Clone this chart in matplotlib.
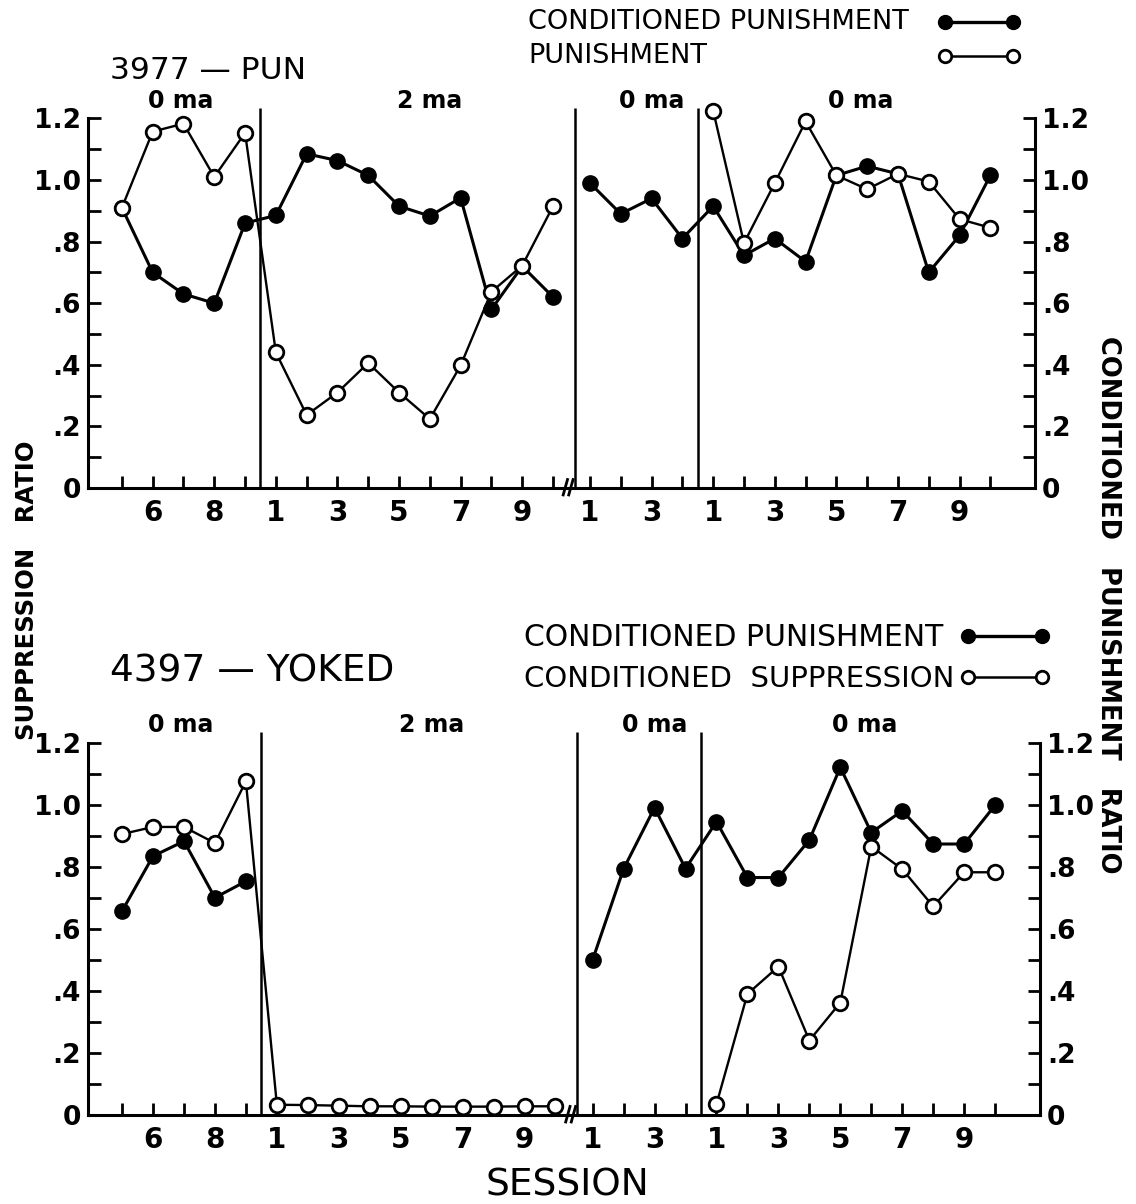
import numpy as np
import matplotlib
matplotlib.use("Agg")
import matplotlib.pyplot as plt
from matplotlib.ticker import MultipleLocator, FixedLocator

plt.rcParams['font.family'] = ['DejaVu Sans']

# Sessions in each phase
sessions_g1 = [5, 6, 7, 8, 9]
sessions_g2 = list(range(1, 11))
sessions_g3 = [1, 2, 3, 4]
sessions_g4 = list(range(1, 11))
phase_names = ["0 ma", "2 ma", "0 ma", "0 ma"]
tick_labels_g1 = ["", "6", "", "8", ""]
tick_labels_g2 = ["1", "", "3", "", "5", "", "7", "", "9", ""]
tick_labels_g3 = ["1", "", "3", ""]
tick_labels_g4 = ["1", "", "3", "", "5", "", "7", "", "9", ""]
ytick_vals = [0, 0.2, 0.4, 0.6, 0.8, 1.0, 1.2]
ytick_text = ["0", ".2", ".4", ".6", ".8", "1.0", "1.2"]

# 3977 - PUN
pun_cp_g1 = [0.91, 0.70, 0.63, 0.60, 0.86]
pun_cp_g2 = [0.885, 1.085, 1.063, 1.015, 0.915, 0.883, 0.942, 0.58, 0.72, 0.62]
pun_cp_g3 = [0.99, 0.89, 0.94, 0.81]
pun_cp_g4 = [0.915, 0.755, 0.81, 0.735, 1.015, 1.045, 1.02, 0.70, 0.82, 1.015]
pun_p_g1 = [0.91, 1.157, 1.183, 1.01, 1.153]
pun_p_g2 = [0.44, 0.237, 0.31, 0.406, 0.31, 0.224, 0.398, 0.637, 0.722, 0.915]
pun_p_g4 = [1.225, 0.795, 0.99, 1.19, 1.015, 0.97, 1.02, 0.995, 0.873, 0.845]

# 4397 - YOKED
yok_cp_g1 = [0.657, 0.834, 0.882, 0.70, 0.753]
yok_cp_g3 = [0.50, 0.793, 0.99, 0.794]
yok_cp_g4 = [0.945, 0.765, 0.765, 0.886, 1.12, 0.91, 0.98, 0.873, 0.873, 0.998]
yok_cs_g1 = [0.905, 0.928, 0.928, 0.876, 1.075]
yok_cs_g2 = [0.033, 0.032, 0.03, 0.028, 0.028, 0.027, 0.027, 0.027, 0.028, 0.028]
yok_cs_g4 = [0.035, 0.39, 0.478, 0.24, 0.362, 0.865, 0.792, 0.672, 0.782, 0.782]

# x positions: consecutive slots, small extra gap after the axis break
gap = 0.2
x_g1 = np.arange(len(sessions_g1), dtype=float)
x_g2 = x_g1[-1] + 1 + np.arange(len(sessions_g2))
x_g3 = x_g2[-1] + 1 + gap + np.arange(len(sessions_g3))
x_g4 = x_g3[-1] + 1 + np.arange(len(sessions_g4))
bounds = [(x_g1[-1] + x_g2[0]) / 2, (x_g2[-1] + x_g3[0]) / 2 + 0.1, (x_g3[-1] + x_g4[0]) / 2]
brk = x_g2[-1] + 0.45
centers = [x_g1.mean() - 0.1, x_g2.mean() + 0.5, x_g3.mean() + 0.5, x_g4.mean() + 0.3]
all_x = np.concatenate([x_g1, x_g2, x_g3, x_g4])
all_labels = tick_labels_g1 + tick_labels_g2 + tick_labels_g3 + tick_labels_g4


def series(*parts):
    xs, ys = [], []
    for x, y in parts:
        if x is None:
            xs.append([np.nan]); ys.append([np.nan])
            continue
        xs.append(list(x)); ys.append(list(y))
    return np.concatenate(xs), np.concatenate(ys)


def setup(ax):
    ax.set_xlim(-1.1, 29.65)
    ax.set_ylim(0, 1.25)
    ax.spines['top'].set_visible(False)
    for s in ['left', 'right', 'bottom']:
        ax.spines[s].set_linewidth(2.2)
    ax.spines['left'].set_bounds(0, 1.2)
    ax.spines['right'].set_bounds(0, 1.2)
    ax.yaxis.set_major_locator(FixedLocator(ytick_vals))
    ax.yaxis.set_minor_locator(MultipleLocator(0.1))
    ax.set_yticklabels(ytick_text)
    ax.tick_params(axis='y', which='both', direction='in', length=9, width=2,
                   left=True, right=True, labelleft=True, labelright=True,
                   labelsize=19, pad=5)
    ax.set_xticks(all_x)
    ax.set_xticklabels(all_labels)
    ax.tick_params(axis='x', direction='in', length=9, width=2, labelsize=20, pad=8)
    for lab in ax.get_xticklabels() + ax.yaxis.get_majorticklabels():
        lab.set_fontweight('bold')
    for b in bounds:
        ax.vlines(b, 0, 1.235, color='black', lw=1.8)
    # axis break mark
    tr = ax.get_xaxis_transform()
    ax.plot([brk - 0.12, brk + 0.02], [-0.018, 0.022], color='black', lw=2, transform=tr, clip_on=False)
    ax.plot([brk + 0.06, brk + 0.20], [-0.018, 0.022], color='black', lw=2, transform=tr, clip_on=False)
    for c, name in zip(centers, phase_names):
        ax.text(c, 1.258, name, ha='center', va='center', fontsize=17, fontweight='bold')


def draw(ax, x, y, filled):
    if filled:
        ax.plot(x, y, color='black', lw=2.2, marker='o', ms=11, mfc='black', mec='black', clip_on=False, zorder=3)
    else:
        ax.plot(x, y, color='black', lw=1.7, marker='o', ms=10.5, mfc='white', mec='black', mew=2, clip_on=False, zorder=4)


def legend_key(fig, x0, x1, y, filled):
    if filled:
        fig.add_artist(plt.Line2D([x0, x1], [y, y], color='black', lw=2.4, marker='o', ms=10,
                                  mfc='black', mec='black', transform=fig.transFigure))
    else:
        fig.add_artist(plt.Line2D([x0, x1], [y, y], color='black', lw=1.8, marker='o', ms=9,
                                  mfc='white', mec='black', mew=2, transform=fig.transFigure))


fig = plt.figure(figsize=(11.36, 12.04), dpi=100)
W, H = 1136.0, 1204.0
ax1 = fig.add_axes([88 / W, 1 - 488 / H, (1035 - 88) / W, 385 / H])
ax2 = fig.add_axes([88 / W, 1 - 1115 / H, (1040 - 88) / W, 388 / H])

# top panel
setup(ax1)
x, y = series((np.concatenate([x_g1, x_g2]), pun_cp_g1 + pun_cp_g2), (None, None),
              (np.concatenate([x_g3, x_g4]), pun_cp_g3 + pun_cp_g4))
draw(ax1, x, y, True)
x, y = series((np.concatenate([x_g1, x_g2]), pun_p_g1 + pun_p_g2), (None, None), (x_g4, pun_p_g4))
draw(ax1, x, y, False)

# bottom panel
setup(ax2)
x, y = series((x_g1, yok_cp_g1), (None, None), (np.concatenate([x_g3, x_g4]), yok_cp_g3 + yok_cp_g4))
draw(ax2, x, y, True)
x, y = series((np.concatenate([x_g1, x_g2]), yok_cs_g1 + yok_cs_g2), (None, None), (x_g4, yok_cs_g4))
draw(ax2, x, y, False)

# titles and legends
fig.text(110 / W, 1 - 79 / H, "3977 \u2014 PUN", fontsize=22.5, va='baseline', ha='left')
fig.text(110 / W, 1 - 682 / H, "4397 \u2014 YOKED", fontsize=27, va='baseline', ha='left')
fig.text(528 / W, 1 - 22 / H, "CONDITIONED PUNISHMENT", fontsize=19.5, va='center', ha='left')
fig.text(528 / W, 1 - 56 / H, "PUNISHMENT", fontsize=19.5, va='center', ha='left')
legend_key(fig, 945 / W, 1013 / W, 1 - 22 / H, True)
legend_key(fig, 945 / W, 1013 / W, 1 - 56 / H, False)
fig.text(524 / W, 1 - 638 / H, "CONDITIONED PUNISHMENT", fontsize=21.5, va='center', ha='left')
fig.text(524 / W, 1 - 679 / H, "CONDITIONED  SUPPRESSION", fontsize=21, va='center', ha='left')
legend_key(fig, 968 / W, 1042 / W, 1 - 636 / H, True)
legend_key(fig, 968 / W, 1042 / W, 1 - 677 / H, False)

fig.text(27 / W, 1 - 590 / H, "SUPPRESSION   RATIO", rotation=90, fontsize=17.5, fontweight='bold',
         va='center', ha='center')
fig.text(1108 / W, 1 - 605 / H, "CONDITIONED   PUNISHMENT   RATIO", rotation=-90, fontsize=18.5,
         fontweight='bold', va='center', ha='center')
fig.text(567 / W, 1 - 1185 / H, "SESSION", fontsize=27, va='center', ha='center')

fig.savefig("out.png", dpi=100)
